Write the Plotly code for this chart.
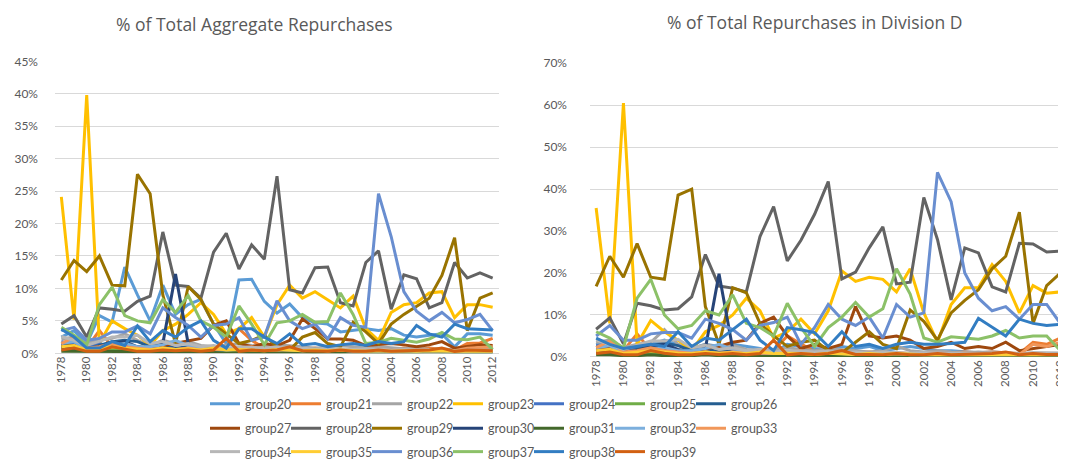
import plotly.graph_objects as go

years = list(range(1978, 2013))
groups = ["group%d" % g for g in range(20, 40)]
colors = ["#5B9BD5", "#ED7D31", "#A5A5A5", "#FFC000", "#4472C4", "#70AD47", "#255E91",
          "#9E480E", "#636363", "#997300", "#264478", "#43682B", "#7CAFDD", "#F1975A",
          "#B7B7B7", "#FFCD33", "#698ED0", "#8CC168", "#327DC2", "#D26012"]

# ---- % of Total Aggregate Repurchases (left) ----
L20 = [2.5, 3.5, 1.5, 5.8, 4.8, 13.3, 9.0, 5.0, 10.5, 6.0, 7.5, 8.3, 4.5, 1.5, 11.3, 11.4, 8.0, 6.2, 7.6, 5.5, 4.7, 4.5, 3.3, 3.6, 3.8, 3.5, 3.8, 2.8, 2.5, 2.8, 3.0, 1.0, 3.0, 3.0, 2.8]
L21 = [1.2, 1.5, 0.8, 3.5, 1.0, 0.8, 0.5, 0.6, 1.0, 0.8, 0.6, 0.5, 0.8, 1.0, 3.8, 2.0, 0.8, 0.6, 0.8, 0.6, 0.8, 0.5, 0.6, 0.5, 0.6, 0.8, 0.6, 0.8, 0.6, 0.8, 0.6, 0.5, 1.5, 1.6, 2.3]
L22 = [2.2, 2.5, 1.5, 2.0, 2.3, 3.0, 2.0, 1.2, 2.0, 1.5, 1.8, 1.2, 1.0, 1.2, 1.5, 1.2, 1.0, 1.3, 1.2, 1.0, 0.8, 1.0, 1.2, 1.0, 0.8, 1.0, 0.8, 0.7, 0.8, 0.6, 0.7, 0.5, 0.6, 0.7, 0.6]
L23 = [24.1, 5.2, 39.8, 1.5, 5.0, 3.8, 2.8, 1.2, 3.5, 4.5, 6.0, 7.8, 6.0, 3.0, 3.8, 5.5, 2.5, 7.5, 10.5, 8.5, 9.5, 8.3, 7.0, 8.8, 3.8, 2.0, 6.3, 7.5, 7.8, 9.3, 9.5, 5.5, 7.5, 7.5, 7.1]
L24 = [1.8, 1.5, 0.8, 1.5, 1.0, 1.2, 0.8, 0.6, 0.8, 0.7, 0.6, 0.5, 0.6, 0.5, 0.4, 0.5, 0.4, 0.3, 0.4, 0.3, 0.4, 0.3, 0.3, 0.4, 0.3, 0.3, 0.2, 0.3, 0.3, 0.2, 0.3, 0.2, 0.2, 0.3, 0.2]
L25 = [0.8, 0.6, 0.4, 0.6, 0.7, 0.5, 0.5, 0.4, 0.6, 0.5, 0.4, 0.4, 0.3, 0.4, 0.3, 0.3, 0.4, 0.3, 0.3, 0.3, 0.2, 0.3, 0.2, 0.3, 0.2, 0.2, 0.3, 0.2, 0.2, 0.3, 0.2, 0.2, 0.2, 0.2, 0.2]
L26 = [1.5, 1.0, 0.6, 1.2, 1.8, 2.0, 1.8, 1.0, 1.3, 0.8, 1.0, 0.7, 0.8, 0.6, 0.8, 0.7, 0.6, 0.5, 0.6, 0.5, 0.5, 0.4, 0.5, 0.4, 0.5, 0.4, 0.5, 0.4, 0.4, 0.5, 0.4, 0.3, 0.4, 0.4, 0.3]
L27 = [1.0, 1.2, 0.8, 1.0, 1.5, 1.2, 1.0, 0.8, 1.2, 1.5, 2.0, 2.3, 4.3, 5.0, 1.5, 1.0, 1.5, 1.2, 2.0, 5.3, 3.8, 2.2, 2.2, 2.0, 1.2, 1.3, 1.5, 1.3, 1.0, 1.3, 1.8, 0.8, 1.0, 1.3, 1.2]
L28 = [4.5, 5.8, 2.5, 7.0, 6.8, 6.5, 8.0, 8.8, 18.7, 10.5, 10.3, 8.5, 15.6, 18.5, 13.0, 16.7, 14.5, 27.3, 9.8, 9.3, 13.2, 13.3, 7.8, 7.3, 14.0, 15.8, 6.8, 12.1, 11.5, 7.0, 7.8, 14.0, 11.6, 12.4, 11.6]
L29 = [11.3, 14.3, 12.6, 15.0, 10.5, 10.4, 27.6, 24.6, 9.0, 1.5, 10.3, 8.3, 4.5, 3.0, 1.5, 2.0, 2.8, 1.0, 0.5, 2.5, 3.2, 1.5, 1.0, 4.8, 3.3, 1.5, 4.5, 6.0, 7.3, 8.5, 12.0, 17.8, 3.5, 8.5, 9.3]
L30 = [1.0, 0.8, 0.5, 0.8, 1.5, 1.8, 1.0, 0.8, 1.5, 12.2, 1.5, 0.8, 0.5, 0.6, 0.8, 0.6, 0.5, 0.4, 0.5, 0.5, 0.4, 0.4, 0.5, 0.4, 0.3, 0.4, 0.3, 0.3, 0.4, 0.3, 0.3, 0.3, 0.3, 0.3, 0.3]
L31 = [0.3, 0.3, 0.2, 0.2, 0.3, 0.2, 0.2, 0.2, 0.3, 0.2, 0.2, 0.2, 0.2, 0.2, 0.2, 0.1, 0.1, 0.2, 0.1, 0.1, 0.1, 0.1, 0.1, 0.1, 0.1, 0.1, 0.1, 0.1, 0.1, 0.1, 0.1, 0.1, 0.1, 0.1, 0.1]
L32 = [1.5, 1.8, 0.6, 0.8, 1.2, 1.5, 1.0, 1.0, 1.3, 2.0, 1.2, 0.8, 0.6, 0.5, 0.6, 0.8, 0.5, 0.6, 0.5, 0.4, 0.5, 0.4, 0.5, 0.3, 0.4, 0.3, 0.4, 0.3, 0.3, 0.4, 0.3, 0.3, 0.3, 0.4, 0.3]
L33 = [1.5, 2.5, 0.8, 1.0, 1.5, 1.0, 0.8, 0.6, 0.8, 0.6, 0.8, 0.5, 0.6, 0.6, 0.8, 1.0, 0.6, 0.5, 0.6, 0.5, 0.6, 0.4, 0.5, 0.4, 0.5, 0.6, 0.5, 0.6, 0.5, 0.6, 0.5, 0.4, 0.8, 0.9, 1.0]
L34 = [2.6, 2.0, 1.2, 1.8, 2.5, 2.5, 2.8, 1.5, 1.8, 1.2, 1.5, 1.0, 1.2, 0.8, 1.0, 0.9, 0.8, 1.0, 0.7, 0.8, 0.6, 0.8, 0.7, 0.6, 0.7, 0.6, 0.5, 0.6, 0.5, 0.6, 0.5, 0.4, 0.5, 0.5, 0.4]
L35 = [1.0, 1.2, 0.5, 0.8, 1.0, 0.8, 0.6, 0.5, 0.8, 0.6, 0.7, 0.5, 0.8, 0.5, 0.6, 0.5, 0.4, 0.6, 0.5, 0.4, 0.5, 0.4, 0.5, 0.4, 0.3, 0.4, 0.3, 0.4, 0.3, 0.4, 0.3, 0.3, 0.3, 0.3, 0.3]
L36 = [3.5, 4.0, 2.0, 2.3, 3.3, 3.3, 4.2, 3.0, 7.0, 5.5, 4.3, 2.5, 4.3, 4.5, 5.5, 2.0, 2.5, 8.1, 5.0, 3.8, 4.5, 2.2, 5.5, 4.3, 4.0, 24.6, 18.0, 9.5, 6.5, 5.0, 6.3, 4.7, 5.2, 6.0, 3.5]
L37 = [4.0, 2.8, 1.3, 7.5, 10.2, 5.8, 5.0, 4.7, 8.3, 6.3, 8.9, 5.0, 4.0, 2.5, 7.3, 4.5, 1.3, 4.7, 5.0, 6.0, 4.8, 4.9, 9.3, 6.0, 1.5, 1.7, 2.3, 2.0, 1.7, 2.2, 3.2, 2.2, 2.1, 2.5, 0.6]
L38 = [3.7, 2.5, 0.8, 0.8, 1.8, 1.2, 4.2, 1.8, 3.5, 2.5, 4.0, 5.0, 2.0, 0.8, 3.8, 3.8, 2.5, 1.5, 3.0, 1.3, 1.5, 1.0, 1.3, 1.5, 1.2, 1.8, 1.5, 1.8, 4.3, 3.0, 2.5, 4.5, 3.8, 3.7, 3.6]
L39 = [0.5, 0.8, 0.3, 0.3, 1.0, 0.6, 0.3, 0.3, 0.5, 0.4, 0.5, 0.3, 0.5, 2.3, 0.3, 0.5, 0.4, 0.5, 1.0, 0.4, 0.4, 0.3, 0.5, 0.3, 0.3, 0.5, 0.3, 0.4, 0.5, 0.5, 0.8, 0.3, 0.5, 0.4, 0.4]

# ---- % of Total Repurchases in Division D (right) ----
R20 = [3.0, 4.0, 1.5, 2.5, 3.0, 4.0, 3.0, 2.0, 3.0, 2.5, 3.0, 2.5, 2.0, 1.0, 3.0, 2.5, 2.0, 1.8, 2.5, 2.0, 2.5, 1.5, 2.0, 2.5, 2.0, 1.5, 1.5, 1.2, 1.0, 1.2, 1.0, 0.5, 0.8, 0.8, 0.8]
R21 = [2.0, 2.5, 1.5, 5.5, 1.5, 1.2, 0.8, 1.0, 1.5, 1.2, 1.0, 0.8, 1.2, 1.5, 5.0, 3.0, 1.2, 1.0, 1.2, 1.0, 1.2, 0.8, 1.0, 0.8, 1.0, 1.2, 1.0, 1.2, 1.0, 1.2, 1.0, 0.8, 3.5, 3.0, 4.5]
R22 = [3.5, 4.0, 2.2, 3.0, 3.5, 6.5, 3.0, 1.8, 3.0, 2.2, 2.8, 1.8, 1.5, 1.8, 2.2, 1.8, 1.5, 2.0, 1.8, 1.5, 1.2, 1.5, 2.5, 1.5, 1.2, 1.5, 1.2, 1.0, 1.2, 1.0, 1.0, 0.8, 1.0, 1.0, 0.9]
R23 = [35.5, 8.0, 60.5, 3.0, 8.7, 6.0, 4.0, 1.5, 6.0, 7.5, 10.0, 14.0, 11.0, 4.5, 6.0, 9.0, 5.5, 11.0, 20.5, 18.0, 19.0, 18.5, 15.5, 21.0, 10.5, 3.5, 12.5, 16.5, 16.5, 22.0, 18.0, 10.5, 17.0, 15.2, 15.5]
R24 = [2.7, 2.2, 1.2, 2.2, 1.5, 1.8, 1.2, 0.9, 1.2, 1.0, 0.9, 0.8, 0.9, 0.8, 0.6, 0.8, 0.6, 0.5, 0.6, 0.5, 0.6, 0.5, 0.5, 0.6, 0.5, 0.5, 0.3, 0.5, 0.5, 0.3, 0.5, 0.3, 0.3, 0.5, 0.3]
R25 = [1.2, 0.9, 0.6, 0.9, 1.0, 0.8, 0.8, 0.6, 0.9, 0.8, 0.6, 0.6, 0.5, 0.6, 0.5, 0.5, 0.6, 0.5, 0.5, 0.5, 0.3, 0.5, 0.3, 0.5, 0.3, 0.3, 0.5, 0.3, 0.3, 0.5, 0.3, 0.3, 0.3, 0.3, 0.3]
R26 = [2.2, 1.5, 0.9, 1.8, 2.7, 3.3, 2.7, 1.5, 2.0, 1.2, 1.5, 1.0, 1.2, 0.9, 1.2, 1.0, 0.9, 0.8, 0.9, 0.8, 0.8, 0.6, 0.8, 0.6, 0.8, 0.6, 0.8, 0.6, 0.6, 0.8, 0.6, 0.5, 0.6, 0.6, 0.5]
R27 = [1.5, 2.0, 1.2, 1.5, 2.5, 2.0, 1.5, 1.2, 2.0, 2.5, 3.5, 4.0, 8.0, 9.5, 5.0, 2.0, 3.0, 2.0, 3.0, 12.0, 5.0, 4.5, 5.0, 4.0, 2.0, 2.5, 3.5, 2.0, 2.5, 2.0, 3.5, 1.5, 2.0, 2.5, 3.0]
R28 = [6.6, 9.3, 3.1, 12.8, 12.2, 11.2, 11.5, 14.3, 24.4, 16.9, 16.4, 15.5, 28.7, 35.8, 22.9, 27.8, 34.0, 41.8, 18.6, 20.2, 26.0, 31.0, 17.4, 17.8, 38.0, 28.0, 13.6, 26.0, 24.8, 16.7, 15.5, 27.1, 26.9, 25.0, 25.2]
R29 = [16.8, 24.0, 19.0, 27.0, 19.0, 18.5, 38.6, 40.0, 12.0, 3.0, 16.5, 15.3, 8.0, 5.0, 2.5, 3.5, 4.0, 1.5, 1.0, 3.5, 6.0, 3.0, 2.0, 11.2, 8.5, 4.0, 10.5, 13.5, 16.0, 21.0, 24.0, 34.5, 8.0, 17.0, 20.0]
R30 = [1.5, 1.2, 0.8, 1.5, 2.5, 3.0, 1.8, 1.2, 2.0, 19.8, 2.0, 1.2, 0.8, 1.0, 1.2, 1.0, 0.8, 0.6, 0.8, 0.8, 0.6, 0.6, 0.8, 0.6, 0.5, 0.6, 0.5, 0.5, 0.6, 0.5, 0.5, 0.5, 0.5, 0.5, 0.5]
R31 = [0.5, 0.5, 0.3, 0.3, 0.5, 0.3, 0.3, 0.3, 0.5, 0.3, 0.3, 0.3, 0.3, 0.3, 0.3, 0.2, 0.2, 0.3, 0.2, 0.2, 0.2, 0.2, 0.2, 0.2, 0.2, 0.2, 0.2, 0.2, 0.2, 0.2, 0.2, 0.2, 0.2, 0.2, 0.2]
R32 = [2.2, 2.7, 0.9, 1.2, 1.8, 2.2, 1.5, 1.5, 2.0, 3.0, 1.8, 1.2, 0.9, 0.8, 0.9, 1.2, 0.8, 0.9, 0.8, 0.6, 0.8, 0.6, 0.8, 0.5, 0.6, 0.5, 0.6, 0.5, 0.5, 0.6, 0.5, 0.5, 0.5, 0.6, 0.5]
R33 = [2.2, 3.8, 1.2, 1.5, 2.2, 1.5, 1.2, 0.9, 1.2, 0.9, 1.2, 0.8, 0.9, 0.9, 1.2, 1.5, 0.9, 0.8, 0.9, 0.8, 0.9, 0.6, 0.8, 0.6, 0.8, 0.9, 0.8, 0.9, 0.8, 0.9, 0.8, 0.6, 3.0, 2.5, 3.5]
R34 = [4.0, 3.0, 1.8, 2.8, 3.8, 3.8, 4.2, 2.2, 2.8, 1.8, 2.2, 1.5, 1.8, 1.2, 1.5, 1.4, 1.2, 1.5, 1.0, 1.2, 0.9, 1.2, 1.0, 0.9, 1.0, 0.9, 0.8, 0.9, 0.8, 0.9, 0.8, 0.6, 0.8, 0.8, 0.6]
R35 = [1.5, 1.8, 0.8, 1.2, 1.5, 1.2, 0.9, 0.8, 1.2, 0.9, 1.0, 0.8, 1.2, 0.8, 0.9, 0.8, 0.6, 0.9, 0.8, 0.6, 0.8, 0.6, 0.8, 0.6, 0.5, 0.6, 0.5, 0.6, 0.5, 0.6, 0.5, 0.5, 0.5, 0.5, 0.5]
R36 = [5.0, 7.5, 4.0, 4.0, 5.5, 5.8, 5.8, 4.5, 9.0, 8.0, 6.5, 4.0, 7.5, 8.2, 9.5, 3.0, 7.0, 12.5, 9.0, 7.5, 9.5, 4.5, 12.5, 9.5, 10.5, 44.0, 37.0, 20.0, 14.0, 11.0, 12.0, 9.0, 12.5, 12.5, 8.0]
R37 = [6.0, 4.5, 2.1, 14.0, 18.5, 10.0, 6.7, 7.5, 11.0, 10.0, 14.8, 8.0, 7.0, 5.0, 12.8, 7.0, 2.5, 7.0, 9.5, 13.0, 9.5, 11.5, 21.0, 15.0, 4.5, 3.5, 4.8, 4.5, 4.2, 5.0, 6.3, 4.5, 5.0, 5.0, 1.5]
R38 = [4.5, 3.0, 2.0, 2.5, 3.0, 2.5, 6.0, 2.5, 4.5, 4.0, 6.5, 9.0, 4.0, 1.5, 7.0, 6.5, 5.8, 2.5, 6.0, 2.5, 3.0, 2.0, 3.0, 3.5, 3.0, 3.0, 3.2, 3.5, 9.2, 7.0, 5.0, 9.0, 8.0, 7.5, 7.8]
R39 = [0.8, 1.2, 0.5, 0.5, 1.5, 0.9, 0.5, 0.5, 0.8, 0.6, 0.8, 0.5, 0.8, 4.0, 0.5, 0.8, 0.6, 0.8, 1.5, 0.6, 0.6, 0.5, 0.8, 0.5, 0.5, 0.8, 0.5, 0.6, 0.8, 0.8, 1.2, 0.5, 0.8, 0.6, 0.6]

left_series = [L20, L21, L22, L23, L24, L25, L26, L27, L28, L29,
               L30, L31, L32, L33, L34, L35, L36, L37, L38, L39]
right_series = [R20, R21, R22, R23, R24, R25, R26, R27, R28, R29,
                R30, R31, R32, R33, R34, R35, R36, R37, R38, R39]

left_title = "% of Total Aggregate Repurchases"
right_title = "% of Total Repurchases in Division D"
left_yticks = [0, 5, 10, 15, 20, 25, 30, 35, 40, 45]
right_yticks = [0, 10, 20, 30, 40, 50, 60, 70]
x_ticks = list(range(1978, 2013, 2))

W, H = 1066, 459
FONT = "Lato"
TFONT = "Open Sans"
TXT = "#595959"
GRID = "#D9D9D9"
LW = 3

fig = go.Figure()
legend_names = ["legend", "legend2", "legend3"]
for k, name in enumerate(groups):
    leg = legend_names[k // 7]
    fig.add_trace(go.Scatter(x=years, y=left_series[k], mode="lines", name=name,
                             line=dict(color=colors[k], width=LW),
                             legend=leg, xaxis="x", yaxis="y"))
    if k % 7 == 6 or k == len(groups) - 1:
        # invisible spacer entry so the last legend text in a row is not clipped
        fig.add_trace(go.Scatter(x=[None], y=[None], mode="lines", name=" ",
                                 line=dict(color="rgba(0,0,0,0)", width=1),
                                 legend=leg, hoverinfo="skip", xaxis="x", yaxis="y"))
for k, name in enumerate(groups):
    fig.add_trace(go.Scatter(x=years, y=right_series[k], mode="lines", name=name,
                             line=dict(color=colors[k], width=LW), showlegend=False,
                             xaxis="x2", yaxis="y2"))

def px_x(p):
    return p / W

def px_y(p):
    return (H - p) / H

xcommon = dict(tickmode="array", tickvals=x_ticks, ticktext=[str(v) for v in x_ticks],
               tickangle=-90, showgrid=False, showline=False, zeroline=False, ticks="",
               tickfont=dict(family=FONT, size=11.5, color=TXT), automargin=False)
ycommon = dict(tickmode="array", showgrid=True, gridcolor=GRID, gridwidth=1,
               zeroline=True, zerolinecolor=GRID, zerolinewidth=1, showline=False, ticks="",
               tickfont=dict(family=FONT, size=12, color=TXT), automargin=False)

legcommon = dict(orientation="h", xanchor="left", yanchor="middle",
                 font=dict(family=FONT, size=12.5, color=TXT),
                 itemwidth=30, entrywidth=36, bgcolor="rgba(0,0,0,0)",
                 itemclick=False, itemdoubleclick=False, traceorder="normal")

fig.update_layout(
    width=W, height=H,
    margin=dict(l=0, r=0, t=0, b=0),
    paper_bgcolor="white", plot_bgcolor="white",
    font=dict(family=FONT, color=TXT),
    xaxis=dict(domain=[px_x(47), px_x(491)], range=[1977.5, 2012.5], anchor="y", **xcommon),
    yaxis=dict(domain=[px_y(353), px_y(54.5)], range=[0, 45], tickvals=left_yticks,
               ticktext=["%d%%" % v for v in left_yticks],
               anchor="x", ticklabelstandoff=16, **ycommon),
    xaxis2=dict(domain=[px_x(582), 1.0], range=[1977.55, 2013.0], anchor="y2", **xcommon),
    yaxis2=dict(domain=[px_y(356.7), px_y(56.5)], range=[0, 70], tickvals=right_yticks,
                ticktext=["%d%%" % v for v in right_yticks],
                anchor="x2", ticklabelstandoff=22, **ycommon),
    legend=dict(x=px_x(197), y=px_y(405), **legcommon),
    legend2=dict(x=px_x(197), y=px_y(430), **legcommon),
    legend3=dict(x=px_x(197), y=px_y(454), **legcommon),
    annotations=[
        dict(text=left_title, xref="paper", yref="paper", x=px_x(246), y=px_y(16),
             xanchor="center", yanchor="middle", showarrow=False,
             font=dict(family=TFONT, size=17.5, color=TXT)),
        dict(text=right_title, xref="paper", yref="paper", x=px_x(806), y=px_y(14),
             xanchor="center", yanchor="middle", showarrow=False,
             font=dict(family=TFONT, size=17.5, color=TXT)),
    ],
    showlegend=True,
)

fig.write_html("out.html")
